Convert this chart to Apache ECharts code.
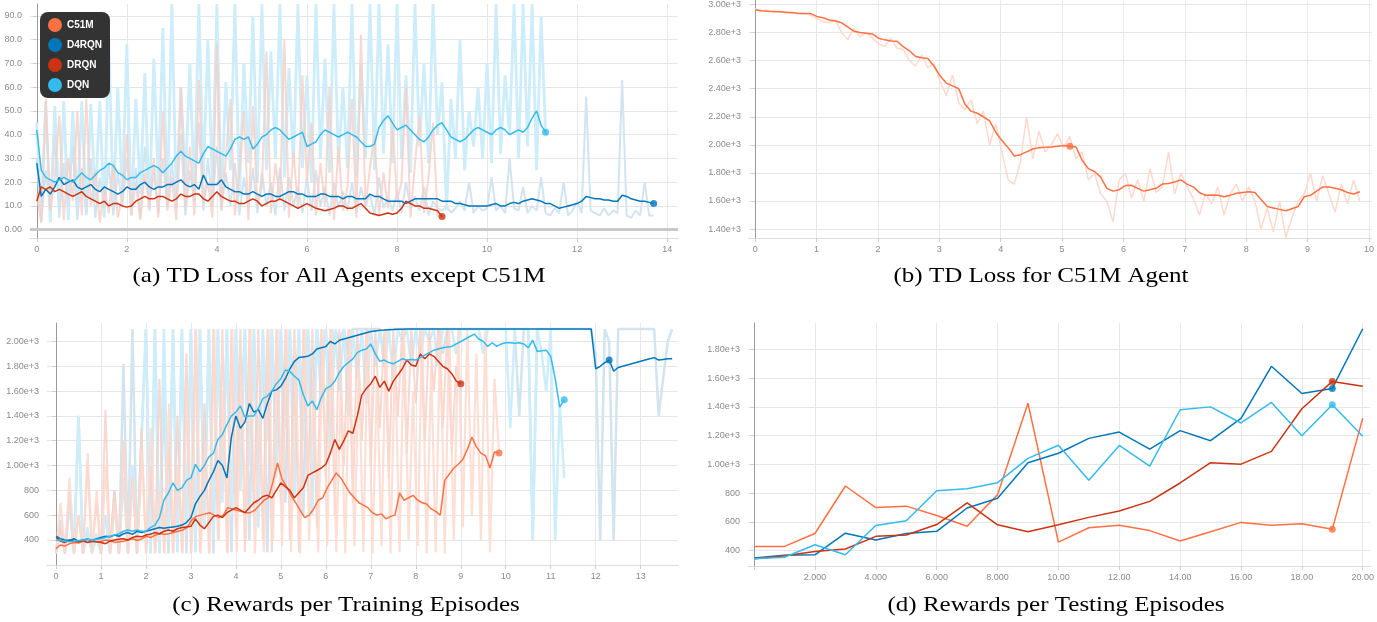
<!DOCTYPE html>
<html><head><meta charset="utf-8">
<script src="https://cdn.jsdelivr.net/npm/echarts@6/dist/echarts.min.js"></script>
<style>html,body{margin:0;padding:0;background:#fff}#c{width:1377px;height:622px}</style>
</head><body><div id="c"></div>
<script>
// ---------- Data ----------
const agents = ['C51M', 'D4RQN', 'DRQN', 'DQN'];
const captions = ['(a) TD Loss for All Agents except C51M', '(b) TD Loss for C51M Agent',
  '(c) Rewards per Training Episodes', '(d) Rewards per Testing Episodes'];

// (a) TD loss, x in hours; smoothed values sampled every 0.1
const lossD4RQN = [28,14,17,15,18,22,19,20,21,18, 17,18,19,17,16,18,17,16,15,16, 18,17,17,19,20,18,17,18,18,19,
  19,20,21,19,18,19,17,23,19,19, 19,21,18,17,16,16,15,15,16,15, 14,15,15,14,14,15,16,16,15,15,
  14,14,14,15,15,14,14,14,13,14, 14,13,13,13,15,14,14,13,12,12, 12,12,11,12,13,13,13,13,13,13,
  12,12,12,11,11,10.5,10,10,10,10, 10,10.5,11,10,10,11,11.5,11,12,12.5, 13,12.5,12,11,11,10,9,9.5,10,10.5,
  11,12,14,13.5,13,13,12.5,12.5,12,12, 14.5,14,13,12.5,12,12,11.5,11];
const lossDRQN = [12,18,17,18,16,17,16,15,14,15, 16,14,13,12,11,12,10,11,11,10, 9.5,10,12,13,14,13,13,14,14,13,
  12,13,15,14,14,15,15,13,12,14, 16,14,13,12,12,11,11,12,13,12, 10,11,12,12,13,12,11,10,9,10,
  11,10,9,8.5,8,8.5,9,10,10,9, 9,10,11,9,7,6.5,6,6.5,7,6.5, 7,9,12,11,10,10,9,9,8.5,8, 5.5];
const lossDQN = [42,25,22,21,20,21,22,21,20,22, 24,22,21,23,25,26,28,27,24,23, 21,22,22,24,25,26,27,26,24,26,
  28,31,33,31,30,29,28,32,35,34, 33,32,31,34,38,39,38,39,34,36, 39,40,42,43,42,40,38,39,40,41,
  35,36,37,40,42,41,40,39,40,41, 40,39,37,35,35,36,43,46,48,45, 42,43,44,42,40,38,37,39,42,44,
  45,42,39,38,37,38,40,42,43,42, 41,40,42,43,42,40,41,42,41,43, 47,50,44,41];
// (a) raw (unsmoothed) TD loss
const lossD4RQNRaw = [30,3,25,8,40,5,28,10,35,4, 26,7,30,5,22,9,28,6,24,10, 30,8,26,5,35,12,24,7,30,10,
  28,9,40,6,25,12,45,8,30,10, 35,8,24,10,28,6,22,9,26,7, 24,10,20,6,26,8,22,10,18,7,
  22,8,25,10,18,6,20,9,16,8, 20,7,18,10,15,6,22,9,14,8, 16,7,20,9,14,8,18,6,12,9,
  8,10,7,9,12,8,20,7,10,8, 9,22,8,10,7,30,9,8,18,7, 10,8,22,7,6,9,7,20,6,8,
  12,7,56,8,7,6,9,6,8,7, 63,6,5,8,6,20,6,6];
const lossDRQNRaw = [15,3,55,8,22,48,4,30,12,50, 6,55,10,25,3,18,7,28,5,14, 40,6,20,4,24,9,30,5,50,8,
  22,4,60,10,35,6,63,12,20,5, 78,8,30,55,6,25,50,4,52,10, 18,75,7,28,12,80,5,33,9,65,
  20,45,6,28,10,60,4,35,8,18, 55,5,82,10,26,40,6,24,9,45, 12,20,60,5,28,48,7,22,45,6, 5];
const lossDQNRaw = [45,5,54,3,52,8,54,4,50,10, 54,6,53,12,54,5,80,9,60,14, 78,6,55,15,66,8,72,18,85,10,
  95,12,60,20,70,15,95,22,80,18, 95,10,62,25,95,14,70,28,90,20, 95,25,75,30,95,22,68,28,95,26,
  65,20,95,30,72,24,95,28,60,26, 95,22,70,30,95,25,95,32,78,28, 95,30,65,24,95,35,70,28,95,40,
  62,8,55,30,80,25,50,35,60,30, 70,28,95,32,65,40,95,30,95,35, 95,25,90,40];

// (b) C51M TD loss
const lossC51M = [2960,2955,2952,2950,2948,2945,2942,2938,2936,2935, 2915,2905,2890,2882,2870,2840,2810,2800,2795,2790,
  2760,2748,2740,2738,2700,2670,2630,2620,2615,2560, 2490,2440,2420,2400,2290,2240,2225,2200,2170,2090,
  2030,1980,1920,1930,1950,1970,1980,1982,1985,1990, 1995,1990,1985,1890,1830,1810,1770,1690,1670,1680,
  1710,1712,1690,1670,1680,1690,1720,1725,1735,1750, 1720,1700,1660,1640,1642,1640,1630,1640,1655,1660,
  1665,1660,1610,1560,1550,1540,1530,1545,1560,1630, 1640,1670,1700,1700,1690,1680,1660,1650,1665];
const lossC51MRaw = [2970,2955,2960,2945,2950,2940,2945,2930,2935,2925, 2900,2880,2870,2890,2800,2750,2830,2770,2800,2760,
  2720,2700,2760,2690,2680,2600,2560,2640,2550,2580, 2450,2350,2500,2300,2250,2320,2150,2240,2000,2150,
  1950,1750,1720,1880,2200,1900,2100,1950,2000,2080, 1980,2060,1900,1950,1750,1800,1650,1600,1450,1750,
  1800,1620,1750,1600,1830,1660,1700,1950,1650,1800, 1700,1620,1500,1650,1580,1700,1500,1650,1720,1600,
  1700,1600,1400,1550,1380,1600,1340,1480,1600,1650, 1800,1600,1780,1650,1520,1720,1580,1750,1600];

// (c) training rewards, smoothed
const trainD4RQN = [430,410,400,395,410,390,400,405,395,410, 420,430,425,440,430,450,460,445,470,460,
  470,480,490,500,495,500,505,510,520,540, 580,690,750,800,880,950,1040,1000,900,1230,
  1400,1300,1350,1500,1430,1450,1380,1500,1600,1610, 1640,1700,1780,1840,1870,1875,1880,1900,1940,1950,
  1960,2000,1980,2010,2020,2030,2040,2050,2060,2070, 2080,2085,2090,2092,2095,2096,2098,2099,2100,2100,
  2100,2100,2100,2100,2100,2100,2100,2100,2100,2100, 2100,2100,2100,2100,2100,2100,2100,2100,2100,2100,
  2100,2100,2100,2100,2100,2100,2100,2100,2100,2100, 2100,2100,2100,2100,2100,2100,2100,2100,2100,2100,
  1780,1800,1830,1850,1760,1790,1800,1810,1820,1830, 1840,1850,1860,1870,1850,1855,1860,1860];
const trainDQN = [400,395,390,385,390,395,400,410,395,405, 410,420,430,440,450,470,480,470,480,470,
  470,500,520,580,720,780,860,800,820,880, 900,1010,950,1000,1070,1100,1210,1250,1330,1400,
  1430,1480,1390,1400,1400,1460,1540,1560,1600,1660, 1700,1770,1760,1720,1690,1570,1480,1520,1450,1550,
  1620,1640,1680,1750,1800,1830,1860,1910,1930,1940, 1980,1900,1840,1850,1830,1820,1840,1860,1850,1855,
  1850,1870,1890,1910,1930,1940,1950,1955,1960,1980, 2000,2020,2040,2060,2020,2000,1960,1990,1960,1980,
  1990,1990,1985,1990,1980,1950,2010,1920,1925,1930, 1880,1700,1470,1530];
const trainDRQN = [420,390,380,400,390,385,395,380,390,385, 380,370,390,400,405,410,400,420,430,425,
  440,445,460,450,470,480,470,490,500,505, 510,570,520,490,540,590,600,580,620,640,
  660,640,620,660,700,720,750,760,740,800, 860,830,800,740,780,820,920,940,960,980,
  1010,1100,1210,1130,1200,1280,1260,1400,1570,1620, 1660,1720,1630,1680,1600,1680,1730,1780,1850,1810,
  1800,1900,1860,1900,1880,1840,1800,1780,1740,1680, 1660];
const trainC51M = [330,360,350,370,380,375,390,380,390,385, 390,400,395,380,385,390,400,410,395,410,
  430,420,440,450,445,450,460,470,480,500, 560,590,600,610,620,600,580,600,660,650,
  640,630,620,620,640,680,720,740,870,1020, 890,830,760,700,640,580,600,650,720,740,
  820,880,940,900,840,780,740,700,680,660, 620,600,610,570,590,600,780,720,740,760,
  720,700,690,650,630,600,880,930,980,1010, 1050,1130,1230,1150,1100,1080,980,1110,1100];
// (c) raw training rewards
const trainD4RQNRaw = [300,560,290,700,300,1400,290,480,300,420, 290,600,300,800,290,1820,300,2100,290,1200,
  2100,290,2100,300,1600,290,2100,300,2100,290, 2100,300,2100,600,2100,290,2100,800,2100,300,
  2100,1200,2100,400,2100,900,2100,300,2100,1000, 2100,700,2100,1400,2100,600,2100,1500,2100,1800,
  2100,1600,2100,2000,2100,1900,2100,2100,2100,2100, 2100,2100,2100,1800,2100,2100,2100,2100,2100,2100,
  2100,2100,2100,2100,2100,2100,1900,2100,2100,2100, 2100,2100,2100,2100,2100,2100,2100,2100,2100,2100,
  2100,2100,2100,1400,2100,2100,400,2100,2100,2100, 2100,2100,2100,2100,2100,2100,2100,2100,2100,2100,
  1900,400,2100,2000,400,2100,2100,2100,2100,2100, 2100,2100,2100,2100,1400,1700,2000,2100];
const trainDQNRaw = [290,500,300,700,290,1400,300,500,290,450, 300,600,290,700,300,900,290,1000,300,1200,
  2100,300,2100,290,2100,400,2100,300,2100,500, 2100,300,2100,500,2100,400,2100,700,2100,600,
  2100,800,2100,1000,2100,500,2100,1200,2100,900, 2100,1300,2100,700,2100,1200,2100,600,2100,1500,
  2100,1100,2100,1600,2100,1400,2100,1700,2100,1500, 2100,1800,2100,1900,2100,1700,2100,2000,2100,1800,
  2100,1900,2100,2000,2100,1800,2100,2100,2100,1900, 2100,2100,2100,2100,2100,1900,2100,2100,2100,2100,
  2100,1300,2100,2100,2100,2100,400,2100,1900,1600, 2100,400,1500,900];
const trainDRQNRaw = [300,500,290,800,300,600,290,1000,300,700, 290,1450,300,800,290,1200,300,900,290,1300,
  300,1000,290,1700,300,1200,290,1400,300,1900, 290,2100,300,1500,290,2100,400,2100,300,2100,
  500,2100,300,2100,600,2100,400,2100,300,2100, 700,2100,400,2100,300,2100,800,2100,500,2100,
  900,2100,600,2100,1000,2100,700,2100,1200,2100, 1000,2100,1300,2100,900,2100,1400,2100,1100,2100,
  1500,2100,1200,2100,1600,2100,1300,2100,1100,1800, 1600];
const trainC51MRaw = [290,700,300,900,290,600,300,1100,290,800, 300,1000,290,700,300,1200,290,900,300,1100,
  290,1300,300,800,290,1500,300,1000,290,1700, 300,2100,290,1200,300,2100,400,1600,290,2100,
  300,1800,400,2100,290,1500,300,2100,400,2100, 350,2100,300,1900,290,2100,400,1700,300,2100,
  350,2100,300,1600,290,2100,350,1800,300,2100, 290,1700,350,2100,290,1900,300,2100,400,1600,
  350,2100,290,1800,300,2100,290,2100,400,2100, 500,2100,600,1900,400,2100,300,1700,1100];

// (d) testing rewards, episodes 0..20
const testC51M  = [430,430,520,850,700,710,645,570,790,1425,460,560,578,540,468,532,597,578,587,550,1322];
const testD4RQN = [350,368,372,522,474,520,535,697,765,1012,1078,1181,1225,1107,1235,1165,1320,1682,1493,1528,1943];
const testDRQN  = [345,365,395,412,500,510,582,732,580,532,580,632,676,743,871,1012,1002,1091,1387,1577,1543];
const testDQN   = [345,355,442,372,576,608,817,831,873,1042,1133,890,1132,988,1380,1400,1288,1431,1199,1415,1196];

// ---------- Helpers ----------
const COLORS = {C51M: '#ff7043', D4RQN: '#0077bb', DRQN: '#cc3311', DQN: '#33bbee'};
const PALE = {C51M: '#fdd9ce', D4RQN: '#d2e4f0', DRQN: '#f6cec6', DQN: '#cdedfa'};
function seq(vals, x0, x1) { const n = vals.length; return vals.map((v, i) => [x0 + (x1 - x0) * i / (n - 1), v]); }
function idx(vals) { return vals.map((v, i) => [i, v]); }
function at(data, x) { let best = data[0]; data.forEach(p => { if (Math.abs(p[0] - x) < Math.abs(best[0] - x)) best = p; }); return best; }

const series = [];
function raw(name, data, g, w, op) {
  series.push({type: 'line', name: name + ' raw', data, xAxisIndex: g, yAxisIndex: g, symbol: 'none', silent: true,
    lineStyle: {color: PALE[name], width: w, opacity: op || 1}, itemStyle: {color: PALE[name]}, z: 1});
}
function smooth(name, data, g, dotX) {
  series.push({type: 'line', name, data, xAxisIndex: g, yAxisIndex: g, symbol: 'none',
    lineStyle: {color: COLORS[name], width: 1.5}, itemStyle: {color: COLORS[name]}, z: 3});
  if (dotX !== undefined) series.push({type: 'scatter', name, data: [at(data, dotX)], xAxisIndex: g, yAxisIndex: g,
    symbolSize: 7, itemStyle: {color: COLORS[name]}, z: 4});
}

// (a)
raw('DQN', seq(lossDQNRaw, 0, 11.3), 0, 2.8);
raw('D4RQN', seq(lossD4RQNRaw, 0, 13.7), 0, 2);
raw('DRQN', seq(lossDRQNRaw, 0, 9), 0, 2, 0.8);
smooth('D4RQN', seq(lossD4RQN, 0, 13.7), 0, 13.7);
smooth('DRQN', seq(lossDRQN, 0, 9), 0, 9);
smooth('DQN', seq(lossDQN, 0, 11.3), 0, 11.3);
series[0].markLine = {silent: true, symbol: 'none', label: {show: false},
  lineStyle: {color: '#c8c8c8', width: 3, type: 'solid'}, data: [{yAxis: 0}]};
// (b)
raw('C51M', seq(lossC51MRaw, 0, 9.85), 1, 1.5);
smooth('C51M', seq(lossC51M, 0, 9.85), 1, 5.15);
// (c)
raw('D4RQN', seq(trainD4RQNRaw, 0, 13.7), 2, 2.5);
raw('DQN', seq(trainDQNRaw, 0, 11.3), 2, 2.5);
raw('DRQN', seq(trainDRQNRaw, 0, 9), 2, 2, 0.8);
raw('C51M', seq(trainC51MRaw, 0, 9.85), 2, 2.2, 0.85);
smooth('C51M', seq(trainC51M, 0, 9.85), 2, 9.85);
smooth('DRQN', seq(trainDRQN, 0, 9), 2, 9);
smooth('D4RQN', seq(trainD4RQN, 0, 13.7), 2, 12.25);
smooth('DQN', seq(trainDQN, 0, 11.3), 2, 11.3);
// (d)
smooth('C51M', idx(testC51M), 3, 19);
smooth('D4RQN', idx(testD4RQN), 3, 19);
smooth('DRQN', idx(testDRQN), 3, 19);
smooth('DQN', idx(testDQN), 3, 19);

// ---------- Axes ----------
const LBL = {color: '#8a8a8a', fontSize: 9, fontFamily: 'Liberation Sans'};
function range(a, b, s) { const r = []; for (let v = a; v <= b + 1e-9; v += s) r.push(+v.toFixed(6)); return r; }
function xAx(g, min, max, ticks, fmt) {
  return {type: 'value', gridIndex: g, min, max,
    axisLine: {onZero: false, lineStyle: {color: '#dcdcdc'}},
    axisTick: {show: true, length: 4, customValues: ticks, lineStyle: {color: '#cfcfcf'}},
    axisLabel: Object.assign({customValues: ticks, margin: 7, formatter: fmt || (v => String(v))}, LBL),
    splitLine: {show: true, lineStyle: {color: '#e8e8e8'}}};
}
function yAx(g, min, max, ticks, fmt) {
  return {type: 'value', gridIndex: g, min, max,
    axisLine: {show: true, onZero: true, lineStyle: {color: '#9a9a9a'}},
    axisTick: {show: true, length: 4, customValues: ticks, lineStyle: {color: '#cfcfcf'}},
    axisLabel: Object.assign({customValues: ticks, margin: 8, formatter: fmt}, LBL),
    splitLine: {show: true, lineStyle: {color: '#e6e6e6'}}};
}
const fmtE = v => v >= 1000 ? (v / 1000).toFixed(2) + 'e+3' : String(v);

const capPos = [[339, 276], [1041, 276], [346, 605], [1056, 605]];

const option = {
  animation: false,
  backgroundColor: '#fff',
  grid: [
    {left: 30, top: 4, width: 648, height: 234},
    {left: 749, top: 0, width: 628, height: 238},
    {left: 47, top: 323, width: 631, height: 242},
    {left: 748, top: 323, width: 629, height: 243}
  ],
  xAxis: [
    xAx(0, -0.15, 14.24, range(0, 14, 2)),
    xAx(1, -0.1, 10.05, range(0, 10, 1)),
    xAx(2, -0.2, 13.83, range(0, 13, 1)),
    xAx(3, -0.2, 20.25, range(0, 20, 2), v => v === 0 ? '' : (v < 10 ? v.toFixed(3) : v.toFixed(2)))
  ],
  yAxis: [
    yAx(0, -3.5, 95, range(0, 90, 10), v => v === 0 ? '0.00' : v.toFixed(1)),
    yAx(1, 1336, 3028, range(1400, 3000, 200), fmtE),
    yAx(2, 198, 2149, range(400, 2000, 200), fmtE),
    yAx(3, 294, 1983, range(400, 1800, 200), fmtE)
  ],
  legend: {data: agents, left: 40, top: 12, orient: 'vertical', icon: 'circle', itemWidth: 14, itemHeight: 14,
    itemGap: 6, padding: [6, 8, 6, 8], backgroundColor: '#333', borderRadius: 8, selectedMode: false, z: 10,
    textStyle: {color: '#fff', fontWeight: 'bold', fontSize: 10, fontFamily: 'Liberation Sans'}},
  graphic: captions.map((t, i) => ({type: 'text', x: capPos[i][0], y: capPos[i][1], scaleX: 1.19, z: 100,
    style: {text: t, font: '21px "Liberation Serif"', fill: '#000',
      align: 'center', verticalAlign: 'middle', textAlign: 'center', textVerticalAlign: 'middle'}})),
  series
};
const chart = echarts.init(document.getElementById('c'), null, {renderer: 'canvas'});
chart.setOption(option);
</script></body></html>
